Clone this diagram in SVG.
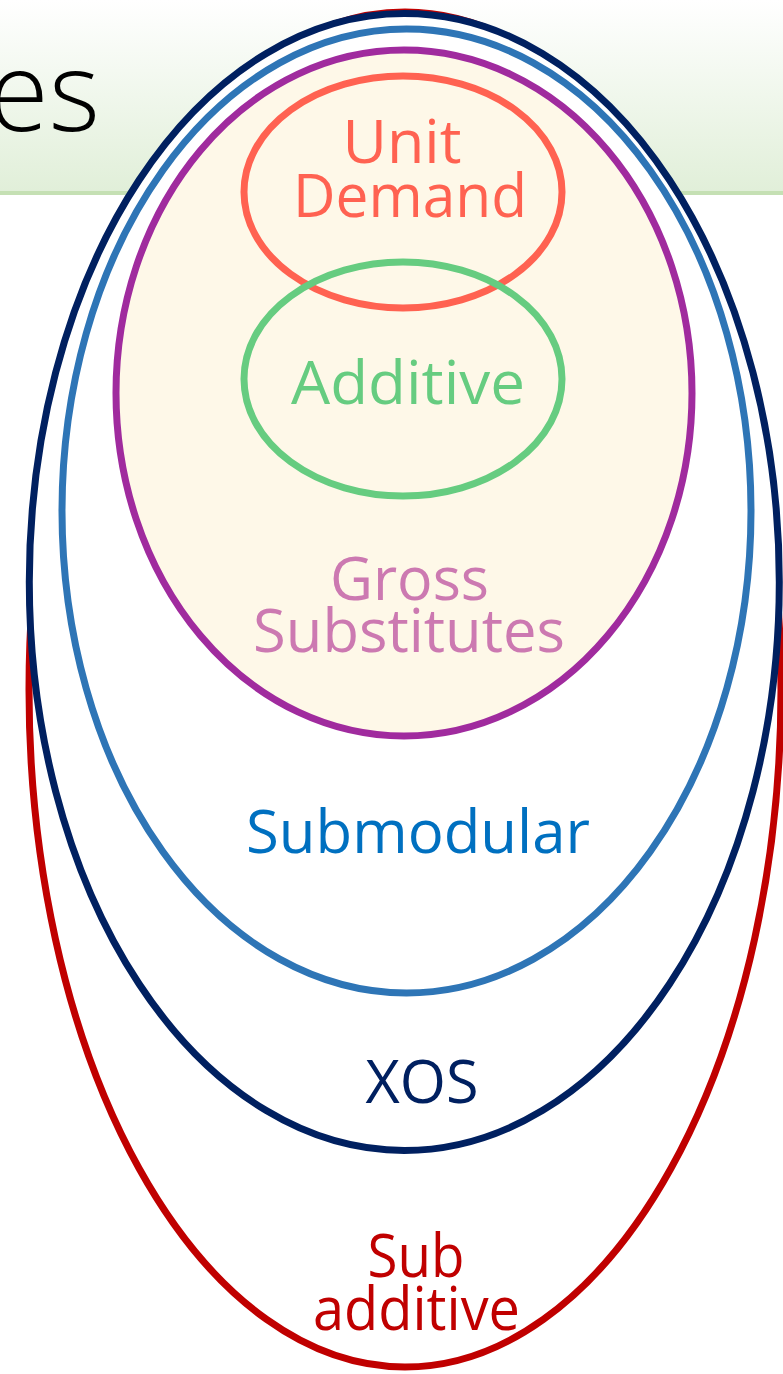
<svg xmlns="http://www.w3.org/2000/svg" width="783" height="1374" viewBox="0 0 783 1374">
  <defs>
    <linearGradient id="hdr" x1="0" y1="0" x2="0" y2="1">
      <stop offset="0" stop-color="#FFFFFF"/>
      <stop offset="1" stop-color="#E1EFD9"/>
    </linearGradient>
  </defs>
  <style>
    .lbl { font-family: "Open Sans", "Noto Sans", sans-serif; font-size: 60px; text-anchor: middle; }
    .ring { stroke-width: 7; }
  </style>
  <rect width="783" height="1374" fill="#FFFFFF"/>
  <g id="header">
    <rect x="0" y="0" width="783" height="191" fill="url(#hdr)"/>
    <rect x="0" y="191" width="783" height="4" fill="#C5E0B4"/>
    <text x="100" y="131" font-family="'Open Sans', 'Noto Sans', sans-serif" font-weight="300" font-size="110" text-anchor="end" fill="#000000">es</text>
  </g>
  <g id="subadditive">
    <ellipse class="ring" cx="405" cy="689.5" rx="376" ry="677.5" fill="#FFFFFF" stroke="#C00000"/>
  </g>
  <g id="xos">
    <ellipse class="ring" cx="404.3" cy="582" rx="375" ry="568.5" fill="#FFFFFF" stroke="#002060"/>
  </g>
  <g id="submodular">
    <ellipse class="ring" cx="406.5" cy="511" rx="344.5" ry="482" fill="#FFFFFF" stroke="#2E75B6"/>
  </g>
  <g id="gross-substitutes">
    <ellipse class="ring" cx="404" cy="393" rx="288" ry="343" fill="#FEF8E8" stroke="#A02B9E"/>
  </g>
  <g id="unit-demand">
    <ellipse class="ring" cx="403" cy="192" rx="159" ry="116" fill="none" stroke="#FF6251"/>
  </g>
  <g id="additive">
    <ellipse class="ring" cx="403" cy="379" rx="159" ry="117" fill="none" stroke="#66CC80"/>
  </g>
  <g id="labels">
    <text class="lbl" x="402" y="163" textLength="119" lengthAdjust="spacingAndGlyphs" fill="#FF6251">Unit</text>
    <text class="lbl" x="410" y="217" textLength="234" lengthAdjust="spacingAndGlyphs" fill="#FF6251">Demand</text>
    <text class="lbl" x="408" y="404" textLength="234" lengthAdjust="spacingAndGlyphs" fill="#66CC80">Additive</text>
    <text class="lbl" x="409.5" y="600" textLength="159" lengthAdjust="spacingAndGlyphs" fill="#CC79B1">Gross</text>
    <text class="lbl" x="409" y="652" textLength="312" lengthAdjust="spacingAndGlyphs" fill="#CC79B1">Substitutes</text>
    <text class="lbl" x="418" y="853" textLength="344" lengthAdjust="spacingAndGlyphs" fill="#0070C0">Submodular</text>
    <text class="lbl" x="422" y="1103" textLength="113" lengthAdjust="spacingAndGlyphs" fill="#002060">XOS</text>
    <text class="lbl" x="416" y="1277" font-size="56" textLength="97" lengthAdjust="spacingAndGlyphs" fill="#C00000">Sub</text>
    <text class="lbl" x="416.5" y="1330" font-size="56" textLength="207" lengthAdjust="spacingAndGlyphs" fill="#C00000">additive</text>
  </g>
</svg>
